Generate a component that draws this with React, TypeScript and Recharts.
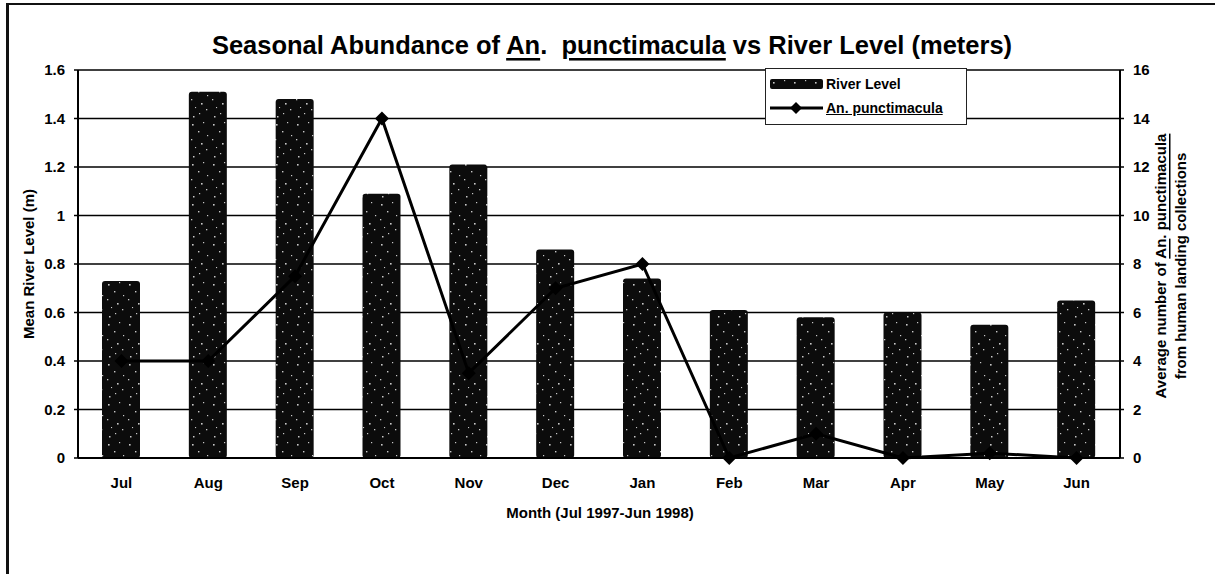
import React from 'react';
import { ComposedChart, Bar, Line, XAxis, YAxis, CartesianGrid, Legend } from 'recharts';

const months = ['Jul', 'Aug', 'Sep', 'Oct', 'Nov', 'Dec', 'Jan', 'Feb', 'Mar', 'Apr', 'May', 'Jun'];
const riverLevel = [0.73, 1.51, 1.48, 1.09, 1.21, 0.86, 0.74, 0.61, 0.58, 0.6, 0.55, 0.65];
const punctimacula = [4, 4, 7.5, 14, 3.5, 7, 8, 0, 1, 0, 0.2, 0];
const leftTicks = [0, 0.2, 0.4, 0.6, 0.8, 1, 1.2, 1.4, 1.6];
const rightTicks = [0, 2, 4, 6, 8, 10, 12, 14, 16];

const data = months.map((m, i) => ({ month: m, river: riverLevel[i], anoph: punctimacula[i] }));

// decorative speckle texture positions for the bar fill pattern
const specks: [number, number, number][] = [
  [3, 4, 1.6], [14, 2, 1.2], [9, 11, 1.4], [18, 15, 1.2], [2, 19, 1.3],
  [12, 23, 1.6], [6, 27, 1.1], [17, 29, 1.3], [10, 33, 1.2], [4, 36, 1.5],
];

const FONT = '"Liberation Sans", Arial, Helvetica, sans-serif';

const Diamond = (props: any) => {
  const { cx, cy } = props;
  if (cx == null || cy == null) return null;
  const r = 7;
  return (
    <polygon
      points={`${cx},${cy - r} ${cx + r},${cy} ${cx},${cy + r} ${cx - r},${cy}`}
      fill="#000"
    />
  );
};

const LegendBox = () => (
  <div
    style={{
      width: 202,
      height: 57,
      border: '1.5px solid #222',
      background: '#fff',
      boxSizing: 'border-box',
      fontFamily: FONT,
      fontWeight: 'bold',
      fontSize: 14,
      color: '#000',
      paddingTop: 3,
    }}
  >
    <div style={{ display: 'flex', alignItems: 'center', height: 24, paddingLeft: 4 }}>
      <svg width={53} height={12} style={{ display: 'block' }}>
        <rect x={0} y={1} width={53} height={10} rx={2} fill="url(#speckle)" />
      </svg>
      <span style={{ marginLeft: 3 }}>River Level</span>
    </div>
    <div style={{ display: 'flex', alignItems: 'center', height: 24, paddingLeft: 4 }}>
      <svg width={53} height={14} style={{ display: 'block' }}>
        <line x1={0} y1={7} x2={53} y2={7} stroke="#000" strokeWidth={3} />
        <polygon points="26,1 32,7 26,13 20,7" fill="#000" />
      </svg>
      <span style={{ marginLeft: 3, textDecoration: 'underline', fontWeight: 'bold' }}>An. punctimacula</span>
    </div>
  </div>
);

const LeftLabel = () => (
  <text
    x={28}
    y={264}
    transform="rotate(-90 28 264)"
    textAnchor="middle"
    dominantBaseline="central"
    fontFamily={FONT}
    fontWeight="bold"
    fontSize={15}
    fill="#000"
  >
    Mean River Level (m)
  </text>
);

const RightLabel = () => (
  <g fontFamily={FONT} fontWeight="bold" fontSize={15} fill="#000">
    <text
      x={1160}
      y={266}
      transform="rotate(-90 1160 266)"
      textAnchor="middle"
      dominantBaseline="central"
      style={{ whiteSpace: 'pre' }}
    >
      {'Average number of '}
      <tspan textDecoration="underline">An</tspan>
      {'. '}
      <tspan textDecoration="underline">punctimacula</tspan>
    </text>
    <text
      x={1180}
      y={266}
      transform="rotate(-90 1180 266)"
      textAnchor="middle"
      dominantBaseline="central"
    >
      from human landing collections
    </text>
  </g>
);

const XLabel = () => (
  <text
    x={600}
    y={512}
    textAnchor="middle"
    dominantBaseline="central"
    fontFamily={FONT}
    fontWeight="bold"
    fontSize={15}
    fill="#000"
  >
    Month (Jul 1997-Jun 1998)
  </text>
);

const tickStyle = { fontFamily: FONT, fontWeight: 'bold' as const, fontSize: 15, fill: '#000' };

export default function App() {
  return (
    <div style={{ position: 'absolute', left: 0, top: 0, width: 1215, height: 574, background: '#fff' }}>
      <div style={{ position: 'absolute', left: 6, top: 3, width: 1209, height: 2, background: '#111' }} />
      <div style={{ position: 'absolute', left: 6, top: 3, width: 2.5, height: 571, background: '#111' }} />
      <ComposedChart
        width={1215}
        height={574}
        data={data}
        margin={{ top: 70, right: 35, left: 0, bottom: 86 }}
        style={{ position: 'absolute', left: 0, top: 0 }}
      >
        <defs>
          <pattern id="speckle" x={0} y={0} width={21} height={40} patternUnits="userSpaceOnUse">
            <rect x={0} y={0} width={21} height={40} fill="#0c0c0c" />
            {specks.map(([x, y, s], i) => (
              <rect key={i} x={x} y={y} width={s} height={s} fill="#c8c8c8" />
            ))}
          </pattern>
        </defs>
        <text
          x={612}
          y={45}
          textAnchor="middle"
          dominantBaseline="central"
          fontFamily={FONT}
          fontWeight="bold"
          fontSize={25.5}
          fill="#000"
          style={{ whiteSpace: 'pre' }}
        >
          {'Seasonal Abundance of '}
          <tspan textDecoration="underline">An</tspan>
          {'.  '}
          <tspan textDecoration="underline">punctimacula</tspan>
          {' vs River Level (meters)'}
        </text>
        <CartesianGrid yAxisId="left" vertical={false} stroke="#000" strokeWidth={1.5} />
        <XAxis
          dataKey="month"
          height={30}
          tickLine={false}
          tickSize={6}
          tickMargin={13}
          axisLine={{ stroke: '#000', strokeWidth: 2 }}
          tick={tickStyle}
          interval={0}
          label={{ content: () => <XLabel /> }}
        />
        <YAxis
          yAxisId="left"
          orientation="left"
          width={78}
          domain={[0, 1.6]}
          ticks={leftTicks}
          interval={0}
          tickSize={4}
          tickMargin={9}
          axisLine={{ stroke: '#000', strokeWidth: 2 }}
          tickLine={{ stroke: '#000', strokeWidth: 1.5 }}
          tick={tickStyle}
          label={{ content: () => <LeftLabel /> }}
        />
        <YAxis
          yAxisId="right"
          orientation="right"
          width={60}
          domain={[0, 16]}
          ticks={rightTicks}
          interval={0}
          tickSize={4}
          tickMargin={9}
          axisLine={{ stroke: '#000', strokeWidth: 2 }}
          tickLine={{ stroke: '#000', strokeWidth: 1.5 }}
          tick={tickStyle}
          label={{ content: () => <RightLabel /> }}
        />
        <Legend
          layout="vertical"
          align="center"
          verticalAlign="middle"
          content={() => <LegendBox />}
          wrapperStyle={{ left: 765, top: 68, width: 202, height: 57 }}
        />
        <Bar
          yAxisId="left"
          dataKey="river"
          name="River Level"
          fill="url(#speckle)"
          barSize={38}
          radius={3}
          isAnimationActive={false}
        />
        <Line
          yAxisId="right"
          type="linear"
          dataKey="anoph"
          name="An. punctimacula"
          stroke="#000"
          strokeWidth={3}
          dot={<Diamond />}
          activeDot={false}
          isAnimationActive={false}
        />
      </ComposedChart>
    </div>
  );
}
